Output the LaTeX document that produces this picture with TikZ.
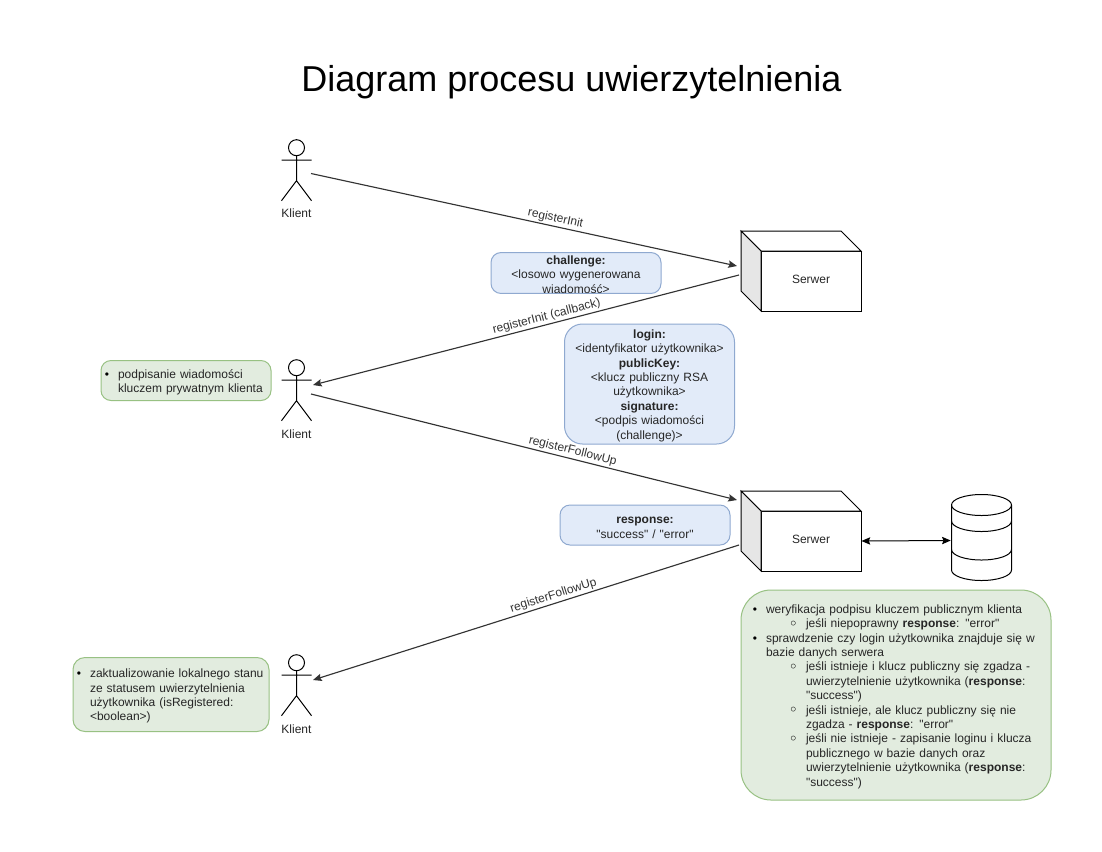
\documentclass[tikz,border=0pt]{standalone}
\usepackage{fontspec}
\setmainfont{Liberation Sans}
\newfontfamily\dejavu{DejaVu Sans}
\usetikzlibrary{arrows.meta}
\newdimen\pxu \pxu=0.75pt
\definecolor{bluefill}{HTML}{E2EBF9}
\definecolor{bluedraw}{HTML}{8FA9D0}
\definecolor{greenfill}{HTML}{E2ECDF}
\definecolor{greendraw}{HTML}{98C183}
\definecolor{sidegrey}{HTML}{E6E6E6}
\definecolor{linegrey}{HTML}{333333}
\newcommand\dq{\XeTeXglyph\XeTeXcharglyph34\relax}
\newcommand\li[4]{\hspace*{\dimexpr#1\pxu\relax}\llap{#2\hspace{\dimexpr#3\pxu\relax}}#4}
\newcommand\dotb{{\color{black}\fontsize{9pt}{9pt}\selectfont •}}
\newcommand\circb{\raisebox{-1.2pt}{\color{black}\dejavu\fontsize{12pt}{9pt}\selectfont ◦}}
\newcommand\actor[3]{% name, centre x, head centre y
  \node[hidden, minimum width=30*\pxu, minimum height=61*\pxu] (#1) at (#2,#3+23) {};
  \draw[fig] (#2,#3) circle[radius=8];
  \draw[fig] (#2,#3+8) -- (#2,#3+33) (#2-15,#3+12.5) -- (#2+15,#3+12.5)
    (#2-15,#3+53) -- (#2,#3+33) -- (#2+15,#3+53);
  \node[txt] (#1t) at (#2,#3+66) {Klient};
}
\newcommand\cube[3]{% name, left x, top y
  \node[front] (#1) at (#1x) {Serwer};
  \draw[fig, fill=white] (#2,#3) -- (#2+100,#3) -- (#2+120,#3+20) -- (#2+20,#3+20) -- cycle;
  \draw[fig, fill=sidegrey] (#2,#3) -- (#2+20,#3+20) -- (#2+20,#3+80) -- (#2,#3+60) -- cycle;
}
\tikzset{
  x=0.75pt, y=-0.75pt,
  fig/.style={draw=black, line width=0.75pt},
  hidden/.style={draw=none, inner sep=0pt},
  txt/.style={font=\fontsize{9pt}{10.8pt}\selectfont, text=black!85, inner sep=0pt, align=center},
  front/.style={fig, fill=white, txt, minimum width=100*\pxu, minimum height=60*\pxu, text depth=2.8pt},
  box/.style={rounded corners=7.5pt, line width=0.75pt, font=\fontsize{9pt}{10.8pt}\selectfont, text=black!85, inner sep=0pt, execute at begin node={\rule{0pt}{9pt}}},
  bluebox/.style={box, fill=bluefill, draw=bluedraw, text width=170*\pxu, align=center},
  greenbox/.style={box, fill=greenfill, draw=greendraw, align=left},
  conn/.style={draw=linegrey, line width=0.85pt, -{Stealth[length=6.5pt,width=5.5pt,inset=1pt]}},
  lab/.style={font=\fontsize{9pt}{10.8pt}\selectfont, text=linegrey, inner sep=1.2pt, sloped, above},
}
\begin{document}
\begin{tikzpicture}
\useasboundingbox (0,0) rectangle (1102,851);
\fill[white] (0,0) rectangle (1102,851);
\node[inner sep=0pt, font=\fontsize{27pt}{32pt}\selectfont, text=black] (title) at (571.5,82.5) {Diagram procesu uwierzytelnienia};

\actor{k1}{296.5}{147.7}
\actor{k2}{296.5}{367.7}
\actor{k3}{296.5}{662.7}

\coordinate (s1x) at (811,281);
\coordinate (s2x) at (811,541);
\cube{s1}{741}{231}
\cube{s2}{741}{491}

% database
\node[hidden, minimum width=60*\pxu, minimum height=85*\pxu] (db) at (981,540.5) {};
\draw[fig, fill=white] (951.5,505) -- (951.5,570) arc[start angle=180,end angle=0,x radius=30,y radius=10.5]
  -- (1011.5,505) arc[start angle=0,end angle=-180,x radius=30,y radius=10.5] -- cycle;
\draw[fig] (951.5,505) arc[start angle=180,end angle=0,x radius=30,y radius=10.5];
\draw[fig] (951.5,521) arc[start angle=180,end angle=0,x radius=30,y radius=10.5];
\draw[fig] (951.5,549.5) arc[start angle=180,end angle=0,x radius=30,y radius=10.5];

% coordinates of connector ends
\coordinate (k1o) at (311,173.5);
\coordinate (s1i) at (737,266);
\coordinate (s1o) at (739,275);
\coordinate (k2i) at (313,385);
\coordinate (k2o) at (311,394);
\coordinate (s2i) at (737,500);
\coordinate (s2o) at (739,545);
\coordinate (k3i) at (313,680);

\draw[conn] (k1o) -- node[lab, pos=.57] {registerInit} (s1i);
\draw[conn] (s1o) -- node[lab, pos=.447] {registerInit (callback)} (k2i);
\draw[conn] (k2o) -- node[lab, pos=.61] {registerFollowUp} (s2i);
\draw[conn] (s2o) -- node[lab, pos=.43] {registerFollowUp} (k3i);
\draw[draw=black, line width=0.75pt, {Stealth[length=6.5pt,width=5.5pt,inset=1pt]}-{Stealth[length=6.5pt,width=5.5pt,inset=1pt]}] (s2.east) -- (db.west);

% blue boxes
\node[bluebox, minimum height=40*\pxu] (b1) at (576,273)
  {\textbf{challenge:}\\ <losowo wygenerowana\\ wiadomość>};
\node[bluebox, rounded corners=13.5pt, minimum height=120*\pxu] (b2) at (649.5,384)
  {\textbf{login:}\\ <identyfikator użytkownika>\\ \textbf{publicKey:}\\ <klucz publiczny RSA\\ użytkownika>\\ \textbf{signature:}\\ <podpis wiadomości\\ (challenge)>};
\node[bluebox, minimum height=40*\pxu] (b3) at (645,525)
  {\textbf{response:}\\ \dq{}success\dq{} / \dq{}error\dq{}};

% green boxes
\node[greenbox, text width=170*\pxu, minimum height=40*\pxu] (g1) at (186,380.5)
  {\li{17}{\dotb}{9}{podpisanie wiadomości}\\ \li{17}{}{0}{kluczem prywatnym klienta}};
\node[greenbox, rounded corners=9pt, text width=196*\pxu, minimum height=74*\pxu] (g2) at (171,694.5)
  {\li{17}{\dotb}{9}{zaktualizowanie lokalnego stanu}\\ \li{17}{}{0}{ze statusem uwierzytelnienia}\\ \li{17}{}{0}{użytkownika (isRegistered:}\\ \li{17}{}{0}{<boolean>)}};
\node[greenbox, rounded corners=22.5pt, text width=310*\pxu, minimum height=210*\pxu] (g3) at (896,695)
  {\li{25}{\dotb}{9}{weryfikacja podpisu kluczem publicznym klienta}\\
   \li{65}{\circb}{8}{jeśli niepoprawny \textbf{response}: \dq{}error\dq{}}\\
   \li{25}{\dotb}{9}{sprawdzenie czy login użytkownika znajduje się w}\\
   \li{25}{}{0}{bazie danych serwera}\\
   \li{65}{\circb}{8}{jeśli istnieje i klucz publiczny się zgadza -}\\
   \li{65}{}{0}{uwierzytelnienie użytkownika (\textbf{response}:}\\
   \li{65}{}{0}{\dq{}success\dq{})}\\
   \li{65}{\circb}{8}{jeśli istnieje, ale klucz publiczny się nie}\\
   \li{65}{}{0}{zgadza - \textbf{response}: \dq{}error\dq{}}\\
   \li{65}{\circb}{8}{jeśli nie istnieje - zapisanie loginu i klucza}\\
   \li{65}{}{0}{publicznego w bazie danych oraz}\\
   \li{65}{}{0}{uwierzytelnienie użytkownika (\textbf{response}:}\\
   \li{65}{}{0}{\dq{}success\dq{})}};
\end{tikzpicture}
\end{document}
